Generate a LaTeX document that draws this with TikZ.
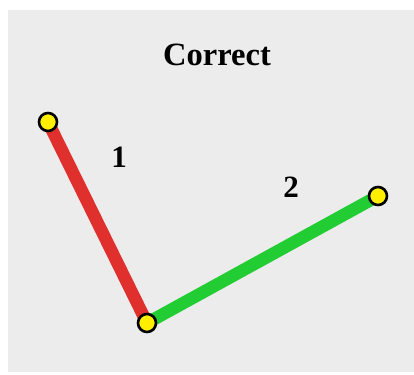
\documentclass[tikz,border=0pt]{standalone}
\usepackage{fontspec}
\setmainfont{Liberation Serif}
\definecolor{bgc}{HTML}{ECECEC}
\definecolor{redbar}{HTML}{E0302E}
\definecolor{greenbar}{HTML}{22CC33}
\definecolor{joint}{HTML}{FFEE00}
\tikzset{
  bar/.style={line width=12.5pt},
  jointdot/.style={circle, draw=black, line width=2.6pt, fill=joint, minimum size=18pt, inner sep=0pt},
  lbl/.style={font=\fontsize{31}{31}\selectfont\bfseries, inner sep=0pt}
}
\begin{document}
\begin{tikzpicture}[x=1pt,y=-1pt]
\useasboundingbox (0,0) rectangle (414,374);
\fill[white] (0,0) rectangle (414,374);
\fill[bgc] (8,10) rectangle (414,372);
\node[lbl, font=\fontsize{32.5}{32.5}\selectfont\bfseries] (title) at (217,55) {Correct};
\coordinate (A) at (48,122);
\coordinate (B) at (147,323);
\coordinate (C) at (378,196);
\draw[bar, redbar] (A) -- (B);
\draw[bar, greenbar] (B) -- (C);
\node[jointdot] (jA) at (A) {};
\node[jointdot] (jB) at (B) {};
\node[jointdot] (jC) at (C) {};
\node[lbl] (l1) at (119,157) {1};
\node[lbl] (l2) at (291,187) {2};
\end{tikzpicture}
\end{document}
